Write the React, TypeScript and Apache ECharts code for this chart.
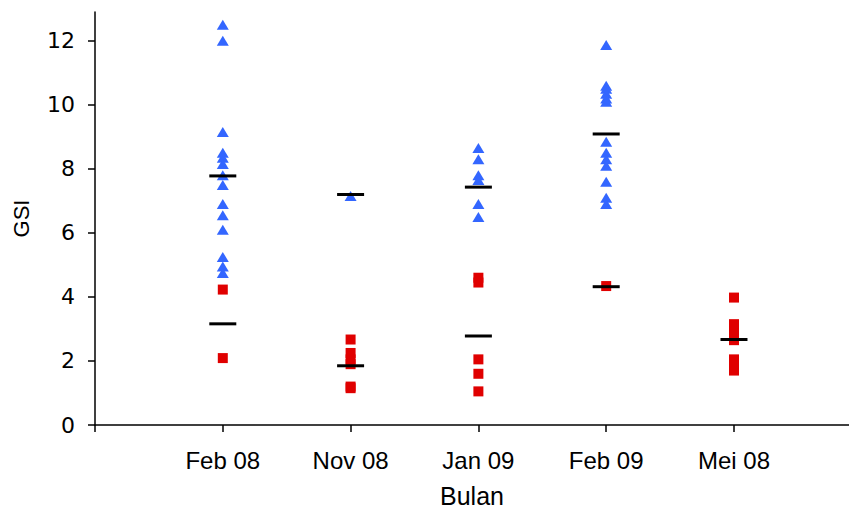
import React, { useEffect, useRef } from "react";
import * as echarts from "echarts";

const categories = ["Feb 08", "Nov 08", "Jan 09", "Feb 09", "Mei 08"];

// Blue triangles (per category)
const feb08Blue = [12.5, 12.0, 9.15, 8.5, 8.35, 8.15, 7.8, 7.5, 6.9, 6.55, 6.1, 5.25, 4.95, 4.75];
const nov08Blue = [7.15];
const jan09Blue = [8.65, 8.3, 7.8, 7.65, 6.9, 6.5];
const feb09Blue = [11.87, 10.6, 10.5, 10.35, 10.2, 10.1, 8.85, 8.5, 8.3, 8.1, 7.6, 7.1, 6.9];
const mei08Blue: number[] = [];

// Red squares (per category)
const feb08Red = [4.23, 2.09];
const nov08Red = [2.67, 2.25, 2.05, 1.9, 1.2, 1.15];
const jan09Red = [4.6, 4.45, 2.05, 1.6, 1.05];
const feb09Red = [4.34];
const mei08Red = [3.98, 3.15, 3.0, 2.8, 2.65, 2.05, 1.85, 1.7];

// Mean markers
const blueMeans = [7.78, 7.2, 7.43, 9.09, null];
const redMeans = [3.16, 1.85, 2.78, 4.32, 2.67];

const yTicks = [0, 2, 4, 6, 8, 10, 12];

const blueGroups = [feb08Blue, nov08Blue, jan09Blue, feb09Blue, mei08Blue];
const redGroups = [feb08Red, nov08Red, jan09Red, feb09Red, mei08Red];

const toPoints = (groups: number[][]) =>
  groups.flatMap((vals, i) => vals.map((v) => [i + 1, v]));

const meanPoints = (means: (number | null)[]) =>
  means
    .map((v, i) => (v == null ? null : [i + 1, v]))
    .filter((p) => p !== null);

export default function App() {
  const ref = useRef<HTMLDivElement>(null);

  useEffect(() => {
    if (!ref.current) return;
    const chart = echarts.init(ref.current, null, { renderer: "svg" });
    const font = "'Liberation Sans', Arial, sans-serif";
    chart.setOption({
      animation: false,
      backgroundColor: "#ffffff",
      grid: {
        left: 95,
        right: 0,
        top: 12,
        bottom: 86,
        containLabel: false,
        outerBoundsMode: "none",
      },
      xAxis: {
        type: "value",
        min: 0,
        max: 5.9,
        interval: 1,
        splitLine: { show: false },
        axisLine: { show: true, onZero: false, lineStyle: { color: "#000", width: 1.5 } },
        axisTick: {
          show: true,
          length: 7,
          customValues: [0, 1, 2, 3, 4, 5],
          lineStyle: { color: "#000", width: 1.5 },
        },
        axisLabel: {
          customValues: [1, 2, 3, 4, 5],
          formatter: (v: number) => categories[Math.round(v) - 1] ?? "",
          color: "#000",
          fontSize: 24,
          fontFamily: font,
          margin: 23,
        },
        name: "Bulan",
        nameLocation: "middle",
        nameGap: 58,
        nameTextStyle: { color: "#000", fontSize: 25, fontFamily: font },
      },
      yAxis: {
        type: "value",
        min: 0,
        max: 12.9,
        interval: 2,
        splitLine: { show: false },
        axisLine: { show: true, lineStyle: { color: "#000", width: 1.5 } },
        axisTick: {
          show: true,
          length: 7,
          customValues: yTicks,
          lineStyle: { color: "#000", width: 1.5 },
        },
        axisLabel: {
          customValues: yTicks,
          color: "#000",
          fontSize: 22,
          fontFamily: "'DejaVu Sans', Verdana, sans-serif",
          margin: 20,
        },
        name: "GSI",
        nameLocation: "middle",
        nameRotate: 90,
        nameGap: 63,
        nameTextStyle: { color: "#000", fontSize: 22, fontFamily: font },
      },
      series: [
        {
          type: "scatter",
          name: "blue",
          symbol: "triangle",
          symbolSize: [12, 10],
          itemStyle: { color: "#3366ff", opacity: 1 },
          data: toPoints(blueGroups),
          z: 2,
        },
        {
          type: "scatter",
          name: "red",
          symbol: "rect",
          symbolSize: [10, 10],
          itemStyle: { color: "#e00000", opacity: 1 },
          data: toPoints(redGroups),
          z: 2,
        },
        {
          type: "scatter",
          name: "blueMean",
          symbol: "rect",
          symbolSize: [27, 3],
          itemStyle: { color: "#000", opacity: 1 },
          data: meanPoints(blueMeans),
          z: 3,
        },
        {
          type: "scatter",
          name: "redMean",
          symbol: "rect",
          symbolSize: [27, 3],
          itemStyle: { color: "#000", opacity: 1 },
          data: meanPoints(redMeans),
          z: 3,
        },
      ],
    });
    return () => chart.dispose();
  }, []);

  return (
    <div
      ref={ref}
      style={{ position: "absolute", left: 0, top: 0, width: 849, height: 511 }}
    />
  );
}
